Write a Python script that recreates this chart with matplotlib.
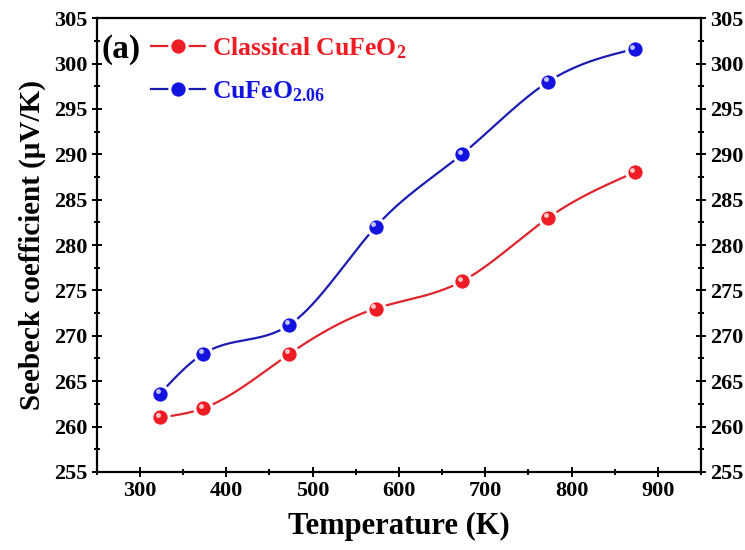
#!/usr/bin/env python3
"""Seebeck coefficient vs temperature for classical and oxygen-rich CuFeO2."""

import numpy as np
import matplotlib

matplotlib.use("Agg")
import matplotlib.pyplot as plt
from matplotlib.ticker import MultipleLocator
from matplotlib.transforms import offset_copy

# data
temperature_k = [323, 373, 473, 573, 673, 773, 873]
seebeck_classical = [261.0, 262.0, 268.0, 273.0, 276.0, 283.0, 288.0]
seebeck_rich = [263.6, 268.0, 271.2, 282.0, 290.0, 298.0, 301.6]

series_labels = ["Classical CuFeO$_{2}$", "CuFeO$_{2.06}$"]
marker_colors = ["#ee1c24", "#1414e0"]
line_colors = ["#e0242c", "#1c1cb4"]


def natural_spline(x, y, n=300):
    """Smooth connecting curve through the points (natural cubic spline)."""
    x = np.asarray(x, float)
    y = np.asarray(y, float)
    k = len(x)
    h = np.diff(x)
    a = np.zeros((k, k))
    b = np.zeros(k)
    a[0, 0] = a[-1, -1] = 1.0
    for i in range(1, k - 1):
        a[i, i - 1] = h[i - 1]
        a[i, i] = 2 * (h[i - 1] + h[i])
        a[i, i + 1] = h[i]
        b[i] = 6 * ((y[i + 1] - y[i]) / h[i] - (y[i] - y[i - 1]) / h[i - 1])
    m = np.linalg.solve(a, b)
    xs = np.linspace(x[0], x[-1], n)
    idx = np.clip(np.searchsorted(x, xs) - 1, 0, k - 2)
    x0, x1 = x[idx], x[idx + 1]
    y0, y1 = y[idx], y[idx + 1]
    m0, m1 = m[idx], m[idx + 1]
    hh = x1 - x0
    t0 = x1 - xs
    t1 = xs - x0
    ys = (m0 * t0 ** 3 + m1 * t1 ** 3) / (6 * hh) + (y0 / hh - m0 * hh / 6) * t0 + (y1 / hh - m1 * hh / 6) * t1
    return xs, ys


plt.rcParams.update(
    {
        "font.family": "Liberation Serif",
        "font.weight": "bold",
        "mathtext.fontset": "custom",
        "mathtext.rm": "Liberation Serif:bold",
        "mathtext.it": "Liberation Serif:bold",
        "mathtext.bf": "Liberation Serif:bold",
        "axes.linewidth": 1.6,
    }
)

fig = plt.figure(figsize=(7.45, 5.5), dpi=100)
ax = fig.add_axes([0.130, 0.142, 0.811, 0.825])

handles = []
for ys, label, mc, lc in zip(
    [seebeck_classical, seebeck_rich], series_labels, marker_colors, line_colors
):
    sx, sy = natural_spline(temperature_k, ys)
    ax.plot(sx, sy, color=lc, linewidth=1.6, zorder=2)
    ax.plot(
        temperature_k,
        ys,
        linestyle="none",
        marker="o",
        markersize=12.5,
        markerfacecolor=mc,
        markeredgecolor="white",
        markeredgewidth=2.2,
        zorder=3,
    )
    # sphere highlight
    hl = offset_copy(ax.transData, fig=fig, x=-1.6, y=1.8, units="points")
    ax.plot(
        temperature_k,
        ys,
        linestyle="none",
        marker="o",
        markersize=3.5,
        markerfacecolor="white",
        markeredgewidth=0,
        alpha=0.75,
        transform=hl,
        zorder=4,
    )
    (h,) = ax.plot(
        [],
        [],
        color=lc,
        linewidth=1.6,
        marker="o",
        markersize=12.5,
        markerfacecolor=mc,
        markeredgecolor="white",
        markeredgewidth=2.2,
        label=label,
    )
    handles.append(h)

ax.set_xlim(250, 950)
ax.set_ylim(255, 305)
ax.xaxis.set_major_locator(MultipleLocator(100))
ax.xaxis.set_minor_locator(MultipleLocator(50))
ax.yaxis.set_major_locator(MultipleLocator(5))
ax.yaxis.set_minor_locator(MultipleLocator(2.5))
ax.tick_params(which="both", direction="inout", top=False, right=True, labelright=True, width=1.4)
ax.tick_params(which="major", length=7, labelsize=16, pad=3)
ax.tick_params(which="minor", length=5)
for lbl in ax.get_xticklabels() + ax.get_yticklabels():
    lbl.set_fontweight("bold")

ax.set_xlabel("Temperature (K)", fontsize=22, fontweight="bold", labelpad=8)
ax.set_ylabel("Seebeck coefficient (\u03bcV/K)", fontsize=21, fontweight="bold", labelpad=6)

ax.text(0.008, 0.932, "(a)", transform=ax.transAxes, fontsize=24, fontweight="bold", va="center", ha="left")
leg = ax.legend(
    handles=handles,
    loc="upper left",
    bbox_to_anchor=(0.09, 0.962),
    frameon=False,
    fontsize=18.5,
    handlelength=2.1,
    handletextpad=0.25,
    labelspacing=0.72,
    borderaxespad=0,
    borderpad=0,
    numpoints=1,
)
for txt, c in zip(leg.get_texts(), marker_colors):
    txt.set_color(c)
    txt.set_fontweight("bold")

fig.savefig("out.png", dpi=100)
